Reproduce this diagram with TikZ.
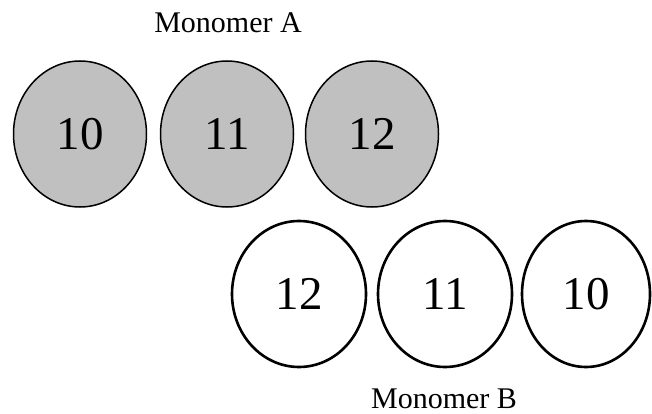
\documentclass[tikz,border=0pt]{standalone}
\usepackage{fontspec}
\setmainfont{Liberation Serif}
\usetikzlibrary{shapes.geometric}
\definecolor{monogray}{HTML}{C0C0C0}
\tikzset{
  resA/.style={ellipse, draw=black, fill=monogray, line width=1.5pt, minimum width=133pt, minimum height=146pt, inner sep=0pt, font=\fontsize{47}{50}\selectfont},
  resB/.style={ellipse, draw=black, fill=white, line width=2.6pt, minimum width=134pt, minimum height=146pt, inner sep=0pt, font=\fontsize{47}{50}\selectfont},
  monolabel/.style={anchor=base, inner sep=0pt, font=\fontsize{30}{32}\selectfont}
}
\begin{document}
\begin{tikzpicture}[x=1pt,y=-1pt]
\useasboundingbox (0,0) rectangle (652,414);
\node[monolabel] (labA) at (228,33) {Monomer A};
\node[resA] (a10) at (80,134) {10};
\node[resA] (a11) at (227,134) {11};
\node[resA] (a12) at (372,134) {12};
\node[resB] (b12) at (299,294) {12};
\node[resB] (b11) at (445,294) {11};
\node[resB, minimum width=128pt] (b10) at (586,294) {10};
\node[monolabel] (labB) at (444,408) {Monomer B};
\end{tikzpicture}
\end{document}
